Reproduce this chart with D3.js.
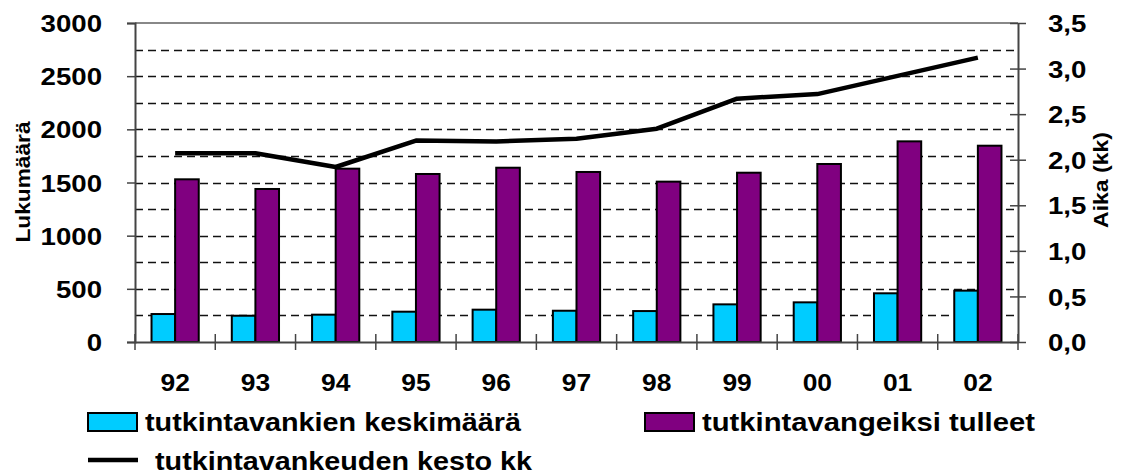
<!DOCTYPE html>
<html>
<head>
<meta charset="utf-8">
<script src="https://cdn.jsdelivr.net/npm/d3@7"></script>
<style>
  body { margin: 0; background: #fff; }
  svg text { font-family: "Liberation Sans", Arial, sans-serif; font-weight: bold; fill: #000; }
</style>
</head>
<body>
<svg id="chart" width="1121" height="475"></svg>
<script>
// data
const years = ["92", "93", "94", "95", "96", "97", "98", "99", "00", "01", "02"];
const keskimaara = [263, 247, 257, 285, 304, 294, 291, 354, 373, 458, 483];
const tulleet = [1530, 1439, 1630, 1580, 1639, 1599, 1508, 1592, 1674, 1887, 1846];
const kesto = [2.07, 2.07, 1.92, 2.21, 2.20, 2.23, 2.34, 2.67, 2.72, 2.92, 3.12];
const leftTicks = [0, 500, 1000, 1500, 2000, 2500, 3000];
const rightTicks = [0, 0.5, 1, 1.5, 2, 2.5, 3, 3.5];
const gridValues = d3.range(250, 3000, 250);

const seriesNames = ["tutkintavankien keskimäärä", "tutkintavangeiksi tulleet", "tutkintavankeuden kesto kk"];
const barColors = ["#00CCFF", "#800080"];

const svg = d3.select("#chart");
const m = {left: 135, right: 1018, top: 23, bottom: 342};

const x0 = d3.scaleBand().domain(years).range([m.left, m.right]);
const x1 = d3.scaleBand().domain([0, 1]).range([0, x0.bandwidth()]).paddingOuter(0.7);
const yL = d3.scaleLinear().domain([0, 3000]).range([m.bottom, m.top]);
const yR = d3.scaleLinear().domain([0, 3.5]).range([m.bottom, m.top]);

// stretch text horizontally like the original
function stretch(sel, k) {
  sel.each(function() {
    const w = this.getComputedTextLength();
    d3.select(this).attr("textLength", w * k).attr("lengthAdjust", "spacingAndGlyphs");
  });
}

// dashed grid
svg.append("g").selectAll("line").data(gridValues).join("line")
  .attr("x1", m.left).attr("x2", m.right)
  .attr("y1", d => Math.round(yL(d)) + 0.5).attr("y2", d => Math.round(yL(d)) + 0.5)
  .attr("stroke", "#111").attr("stroke-width", 1.3).attr("stroke-dasharray", "8,5");
svg.append("line")
  .attr("x1", m.left).attr("x2", m.right).attr("y1", m.top).attr("y2", m.top)
  .attr("stroke", "#888").attr("stroke-width", 2);

// bars
const groups = svg.append("g").selectAll("g").data(years).join("g")
  .attr("transform", d => `translate(${x0(d)},0)`);
groups.selectAll("rect")
  .data((d, i) => [keskimaara[i], tulleet[i]])
  .join("rect")
  .attr("x", (d, j) => x1(j))
  .attr("width", x1.bandwidth())
  .attr("y", d => yL(d))
  .attr("height", d => yL(0) - yL(d))
  .attr("fill", (d, j) => barColors[j])
  .attr("stroke", "#000").attr("stroke-width", 2);

// axes
const axisColor = "#444";
const gL = svg.append("g").attr("transform", `translate(${m.left},0)`)
  .call(d3.axisLeft(yL).tickValues(leftTicks).tickSize(8).tickPadding(25).tickFormat(d3.format("d")));
const gR = svg.append("g").attr("transform", `translate(${m.right},0)`)
  .call(d3.axisRight(yR).tickValues(rightTicks).tickSizeInner(8).tickSizeOuter(0).tickPadding(22)
    .tickFormat(d => d3.format(".1f")(d).replace(".", ",")));
gR.selectAll(".tick line").attr("x1", -8);
const gX = svg.append("g").attr("transform", `translate(0,${m.bottom})`)
  .call(d3.axisBottom(x0).tickSize(0).tickPadding(49));
gX.selectAll(".tick").each(function(d) {
  d3.select(this).append("line")
    .attr("x1", -x0.bandwidth() / 2).attr("x2", -x0.bandwidth() / 2)
    .attr("y1", -8).attr("y2", 8).attr("stroke", axisColor).attr("stroke-width", 1.5);
});
gX.append("line").attr("x1", m.right).attr("x2", m.right).attr("y1", -8).attr("y2", 8)
  .attr("stroke", axisColor).attr("stroke-width", 1.5);

[gL, gR, gX].forEach(g => {
  g.selectAll(".domain").attr("stroke", axisColor).attr("stroke-width", 2);
  g.selectAll(".tick line").attr("stroke", axisColor).attr("stroke-width", 1.5);
  g.selectAll("text").attr("font-family", null).attr("font-size", null).attr("fill", "#000");
});
gL.selectAll("text").style("font-size", "24px").attr("dy", "0.36em");
gR.selectAll("text").style("font-size", "24px").attr("dy", "0.36em");
gX.selectAll("text").style("font-size", "24px").attr("dy", "0");
stretch(gL.selectAll("text"), 1.15);
stretch(gR.selectAll("text"), 1.15);
stretch(gX.selectAll("text"), 1.1);

// line
const line = d3.line().x((d, i) => x0(years[i]) + x0.bandwidth() / 2).y(d => yR(d));
svg.append("path").datum(kesto)
  .attr("d", line).attr("fill", "none")
  .attr("stroke", "#000").attr("stroke-width", 4.5).attr("stroke-linejoin", "round");

// axis titles
svg.append("text").attr("transform", "translate(30,182) rotate(-90)")
  .attr("text-anchor", "middle").style("font-size", "20px").text("Lukumäärä")
  .attr("textLength", 121).attr("lengthAdjust", "spacingAndGlyphs");
svg.append("text").attr("transform", "translate(1108,180) rotate(-90)")
  .attr("text-anchor", "middle").style("font-size", "20px").text("Aika (kk)")
  .attr("textLength", 96).attr("lengthAdjust", "spacingAndGlyphs");

// legend
const leg = svg.append("g");
leg.append("rect").attr("x", 88).attr("y", 413).attr("width", 49).attr("height", 18)
  .attr("fill", barColors[0]).attr("stroke", "#000").attr("stroke-width", 2);
leg.append("text").attr("x", 145).attr("y", 431).style("font-size", "25px").text(seriesNames[0])
  .attr("textLength", 376).attr("lengthAdjust", "spacingAndGlyphs");
leg.append("rect").attr("x", 645).attr("y", 413).attr("width", 49).attr("height", 18)
  .attr("fill", barColors[1]).attr("stroke", "#000").attr("stroke-width", 2);
leg.append("text").attr("x", 702).attr("y", 431).style("font-size", "25px").text(seriesNames[1])
  .attr("textLength", 333).attr("lengthAdjust", "spacingAndGlyphs");
leg.append("line").attr("x1", 88).attr("x2", 138).attr("y1", 460).attr("y2", 460)
  .attr("stroke", "#000").attr("stroke-width", 4.5);
leg.append("text").attr("x", 155).attr("y", 470).style("font-size", "25px").text(seriesNames[2])
  .attr("textLength", 377).attr("lengthAdjust", "spacingAndGlyphs");
</script>
</body>
</html>
